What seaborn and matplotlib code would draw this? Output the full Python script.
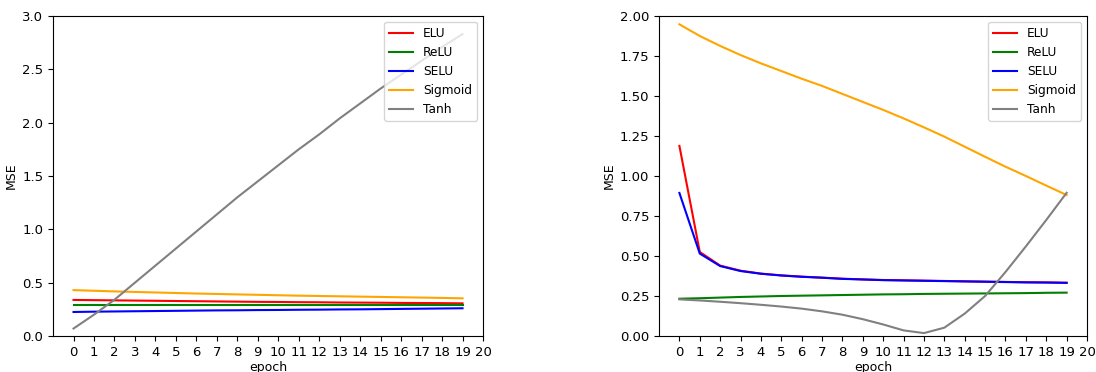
import numpy as np
import pandas as pd
import seaborn as sns
import matplotlib.pyplot as plt

epochs = list(range(20))
activations = ['ELU', 'ReLU', 'SELU', 'Sigmoid', 'Tanh']
colors = {'ELU': 'red', 'ReLU': 'green', 'SELU': 'blue', 'Sigmoid': 'orange', 'Tanh': 'gray'}

# left panel
left_elu = [0.338, 0.336, 0.334, 0.332, 0.330, 0.328, 0.326, 0.324, 0.322, 0.320,
            0.319, 0.317, 0.316, 0.314, 0.313, 0.312, 0.310, 0.309, 0.308, 0.306]
left_relu = [0.288, 0.288, 0.288, 0.288, 0.288, 0.288, 0.288, 0.288, 0.288, 0.288,
             0.288, 0.288, 0.288, 0.288, 0.288, 0.288, 0.288, 0.288, 0.288, 0.288]
left_selu = [0.225, 0.228, 0.230, 0.232, 0.234, 0.236, 0.238, 0.240, 0.241, 0.243,
             0.244, 0.246, 0.247, 0.249, 0.250, 0.252, 0.254, 0.256, 0.258, 0.260]
left_sigmoid = [0.430, 0.424, 0.418, 0.413, 0.408, 0.403, 0.398, 0.394, 0.390, 0.386,
                0.382, 0.378, 0.375, 0.372, 0.369, 0.366, 0.363, 0.360, 0.357, 0.353]
left_tanh = [0.07, 0.20, 0.34, 0.50, 0.66, 0.82, 0.98, 1.14, 1.30, 1.45,
             1.60, 1.75, 1.89, 2.04, 2.18, 2.32, 2.45, 2.58, 2.71, 2.83]

# right panel
right_elu = [1.188, 0.525, 0.440, 0.408, 0.390, 0.379, 0.371, 0.365, 0.358, 0.354,
             0.350, 0.348, 0.346, 0.344, 0.342, 0.340, 0.338, 0.336, 0.335, 0.333]
right_relu = [0.233, 0.236, 0.240, 0.244, 0.247, 0.250, 0.252, 0.254, 0.256, 0.258,
              0.260, 0.261, 0.263, 0.264, 0.265, 0.266, 0.267, 0.268, 0.270, 0.271]
right_selu = [0.894, 0.515, 0.437, 0.406, 0.389, 0.378, 0.370, 0.364, 0.357, 0.353,
              0.349, 0.347, 0.345, 0.343, 0.341, 0.339, 0.337, 0.335, 0.334, 0.332]
right_sigmoid = [1.948, 1.875, 1.813, 1.756, 1.704, 1.656, 1.608, 1.563, 1.513, 1.463,
                 1.413, 1.360, 1.304, 1.246, 1.183, 1.120, 1.058, 1.000, 0.940, 0.881]
right_tanh = [0.229, 0.222, 0.214, 0.205, 0.195, 0.184, 0.171, 0.154, 0.133, 0.105,
              0.072, 0.035, 0.018, 0.052, 0.140, 0.250, 0.400, 0.560, 0.725, 0.895]


def to_long(series):
    rows = []
    for name, vals in zip(activations, series):
        for e, v in zip(epochs, vals):
            rows.append({'epoch': e, 'MSE': v, 'activation': name})
    return pd.DataFrame(rows)


df_left = to_long([left_elu, left_relu, left_selu, left_sigmoid, left_tanh])
df_right = to_long([right_elu, right_relu, right_selu, right_sigmoid, right_tanh])

plt.rcParams['font.size'] = 9
plt.rcParams['xtick.labelsize'] = 9.5
plt.rcParams['ytick.labelsize'] = 9.5

fig = plt.figure(figsize=(10.96, 3.72), dpi=100)
ax1 = fig.add_axes([0.0484, 0.0968, 0.3923, 0.8602])
ax2 = fig.add_axes([0.6013, 0.0968, 0.3905, 0.8602])

for ax, df, ylim, yticks in [(ax1, df_left, (0, 3), np.arange(0, 3.01, 0.5)),
                             (ax2, df_right, (0, 2), np.arange(0, 2.01, 0.25))]:
    sns.lineplot(data=df, x='epoch', y='MSE', hue='activation', palette=colors,
                 hue_order=activations, ax=ax, linewidth=1.5)
    ax.set_xlim(-1, 20)
    ax.set_xticks(range(21))
    ax.set_ylim(*ylim)
    ax.set_yticks(yticks)
    ax.set_xlabel('epoch', fontsize=9, labelpad=2)
    ax.set_ylabel('MSE', fontsize=9, labelpad=3)
    ax.legend(loc='upper right', fontsize=8.7)

ax2.yaxis.set_major_formatter(plt.FormatStrFormatter('%.2f'))

plt.savefig('out.png', dpi=100)
